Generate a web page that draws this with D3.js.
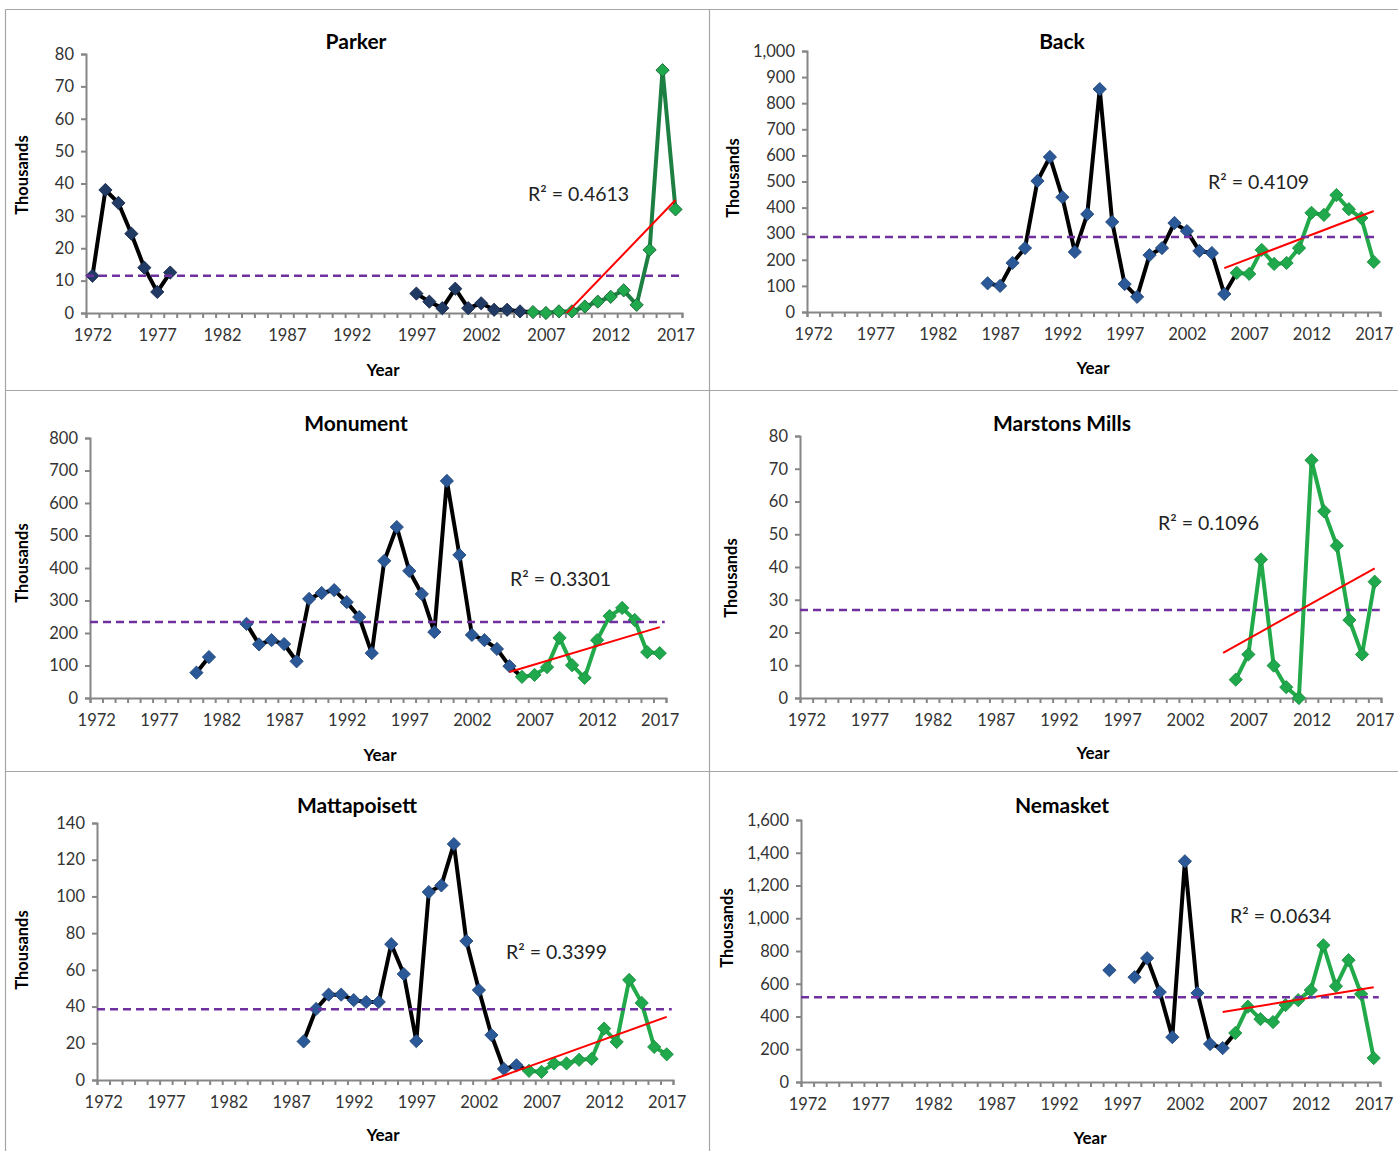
<!DOCTYPE html>
<html>
<head>
<meta charset="utf-8">
<script src="https://cdn.jsdelivr.net/npm/d3@7"></script>
<style>
  body { margin: 0; background: #fff; }
  text { font-family: Lato, "Open Sans", sans-serif; }
</style>
</head>
<body>
<svg id="chart" width="1398" height="1151"></svg>
<script>
// ---- data (thousands of fish) ----
const TICK_YEARS = [1972, 1977, 1982, 1987, 1992, 1997, 2002, 2007, 2012, 2017];
const GREEN_YEARS = [2006, 2007, 2008, 2009, 2010, 2011, 2012, 2013, 2014, 2015, 2016, 2017];

const PARKER_START = 1972;
const PARKER_HIST = [11.5, 38, 34, 24.5, 14, 6.5, 12.5,
  null, null, null, null, null, null, null, null, null, null, null, null, null, null, null, null, null, null,
  6, 3.5, 1.5, 7.5, 1.5, 3, 1, 1, 0.5];
const PARKER_GREEN = [0.3, 0, 0.5, 0.5, 2, 3.5, 5, 7, 2.5, 19.5, 75, 32];

const BACK_START = 1986;
const BACK_HIST = [110, 100, 188, 245, 502, 594, 440, 230, 375, 854, 345, 107, 58, 218, 245, 341, 310, 234, 226, 69];
const BACK_GREEN = [150, 146, 238, 184, 188, 245, 380, 372, 448, 394, 360, 192];

const MONUMENT_START = 1980;
const MONUMENT_HIST = [78, 126, null, null, 228, 165, 178, 166, 113, 305, 323, 332, 295, 249, 138, 422, 526,
  391, 320, 203, 668, 440, 194, 178, 151, 98];
const MONUMENT_GREEN = [65, 71, 95, 185, 101, 62, 178, 252, 277, 240, 141, 138];

const MARSTONS_START = 2006;
const MARSTONS_HIST = [];
const MARSTONS_GREEN = [5.6, 13.3, 42.3, 9.9, 3.3, 0, 72.6, 57, 46.5, 23.8, 13.3, 35.5];

const MATTA_START = 1988;
const MATTA_HIST = [21, 38.7, 46.5, 46.5, 43.5, 42.5, 42.5, 74, 57.7, 21.2, 102.4, 106, 128.5, 75.7, 49, 24.5, 6, 8];
const MATTA_GREEN = [5, 4.4, 9, 9, 11, 11.5, 28, 20.7, 54.5, 42, 18, 14];

const NEMASK_START = 1996;
const NEMASK_HIST = [683, null, 640, 756, 549, 274, 1348, 543, 232, 207];
const NEMASK_GREEN = [299, 460, 384, 366, 470, 500, 561, 835, 585, 744, 537, 146];

// long-term average (dashed) and trend line end points [year, value, year, value]
const AVERAGES = [11.5, 287, 234, 26.9, 38.6, 518];
const TRENDS = [
  [2005, -15, 2017, 34.9],
  [2005, 168, 2017, 387],
  [2005, 80, 2017, 218],
  [2005, 13.8, 2017, 39.6],
  [2003, 0, 2017, 34.4],
  [2005, 427, 2017, 579]
];
const R2_LABELS = ["0.4613", "0.4109", "0.3301", "0.1096", "0.3399", "0.0634"];
const TITLES = ["Parker", "Back", "Monument", "Marstons Mills", "Mattapoisett", "Nemasket"];
const Y_MAX = [80, 1000, 800, 80, 140, 1600];
const Y_STEP = [10, 100, 100, 10, 20, 200];

// ---- layout ----
const LAYOUT = [
  {box: {left: 86, right: 682, top: 54, bottom: 313}, title: [356, 49], year: [383, 376], thou: [22, 175], r2: [528, 201]},
  {box: {left: 807, right: 1380, top: 51, bottom: 312}, title: [1062, 49], year: [1093, 374], thou: [733, 178], r2: [1208, 189]},
  {box: {left: 90, right: 666, top: 438, bottom: 698}, title: [356, 431], year: [380, 761], thou: [22, 563], r2: [510, 586]},
  {box: {left: 800, right: 1381, top: 436, bottom: 698}, title: [1062, 431], year: [1093, 759], thou: [731, 578], r2: [1158, 530]},
  {box: {left: 97, right: 673, top: 823, bottom: 1080}, title: [357, 813], year: [383, 1141], thou: [22, 950], r2: [506, 959]},
  {box: {left: 801, right: 1380, top: 820, bottom: 1082}, title: [1062, 813], year: [1090, 1144], thou: [727, 928], r2: [1230, 923]}
];

const HIST = [
  [PARKER_START, PARKER_HIST], [BACK_START, BACK_HIST], [MONUMENT_START, MONUMENT_HIST],
  [MARSTONS_START, MARSTONS_HIST], [MATTA_START, MATTA_HIST], [NEMASK_START, NEMASK_HIST]
];
const GREEN = [PARKER_GREEN, BACK_GREEN, MONUMENT_GREEN, MARSTONS_GREEN, MATTA_GREEN, NEMASK_GREEN];

const svg = d3.select("#chart");

// panel frame
const FRAME = svg.append("g").attr("stroke", "#a6a6a6").attr("stroke-width", 1.2);
FRAME.append("line").attr("x1", 5.5).attr("x2", 5.5).attr("y1", 9.5).attr("y2", 1151);
FRAME.append("line").attr("x1", 5.5).attr("x2", 1398).attr("y1", 9.5).attr("y2", 9.5);
FRAME.append("line").attr("x1", 709.5).attr("x2", 709.5).attr("y1", 9.5).attr("y2", 1151);
FRAME.append("line").attr("x1", 5.5).attr("x2", 1398).attr("y1", 390.5).attr("y2", 390.5);
FRAME.append("line").attr("x1", 5.5).attr("x2", 1398).attr("y1", 771.5).attr("y2", 771.5);

const diamond = d3.symbol().type(d3.symbolSquare).size(88);

function drawPanel(i) {
  const L = LAYOUT[i];
  const b = L.box;
  const X = d3.scaleLinear().domain([1971.5, 2017.5]).range([b.left, b.right]);
  const Y = d3.scaleLinear().domain([0, Y_MAX[i]]).range([b.bottom, b.top]);
  const g = svg.append("g");

  g.append("clipPath").attr("id", "clip" + i)
    .append("rect").attr("x", b.left).attr("y", b.top - 10)
    .attr("width", b.right - b.left + 10).attr("height", b.bottom - b.top + 10);

  // y axis
  const yAx = g.append("g").attr("transform", `translate(${b.left},0)`)
    .call(d3.axisLeft(Y).tickValues(d3.range(0, Y_MAX[i] + 1, Y_STEP[i]))
      .tickSize(5).tickPadding(7).tickFormat(d3.format(",")));
  // x axis minor ticks between categories
  const xAx = g.append("g").attr("transform", `translate(0,${b.bottom})`)
    .call(d3.axisBottom(X).tickValues(d3.range(1971.5, 2018, 1)).tickSize(5).tickFormat(""));
  const xLab = g.append("g").attr("transform", `translate(0,${b.bottom})`)
    .call(d3.axisBottom(X).tickValues(TICK_YEARS).tickSize(0).tickPadding(16).tickFormat(d3.format("d")));
  xLab.select(".domain").remove();
  [yAx, xAx, xLab].forEach(a => {
    a.attr("font-family", null).attr("font-size", 16.5);
    a.selectAll(".domain, .tick line").attr("stroke", "#868686").attr("stroke-width", 2);
    a.selectAll("text").attr("fill", "#333");
  });

  const hist = HIST[i][1].map((v, k) => ({year: HIST[i][0] + k, v: v}));
  const green = GREEN[i].map((v, k) => ({year: GREEN_YEARS[k], v: v}));
  const line = d3.line().defined(d => d.v !== null).x(d => X(d.year)).y(d => Y(d.v));

  const parker = i === 0;
  if (hist.length) {
    const joined = hist.slice();
    if (hist[hist.length - 1].year === GREEN_YEARS[0] - 1) joined.push(green[0]);
    g.append("path").datum(joined).attr("d", line)
      .attr("fill", "none").attr("stroke", "#000").attr("stroke-width", 4).attr("stroke-linejoin", "round");
    g.selectAll(".hm").data(hist.filter(d => d.v !== null)).enter().append("path")
      .attr("d", diamond)
      .attr("transform", d => `translate(${X(d.year)},${Y(d.v)}) rotate(45)`)
      .attr("fill", parker ? "#203a63" : "#2b5896").attr("stroke", parker ? "#14264a" : "#1f4479").attr("stroke-width", 0.8);
  }

  g.append("path").datum(green).attr("d", line)
    .attr("fill", "none").attr("stroke", parker ? "#1d7f42" : "#22aa4a").attr("stroke-width", 4)
    .attr("stroke-linejoin", "round");
  g.selectAll(".gm").data(green).enter().append("path")
    .attr("d", diamond)
    .attr("transform", d => `translate(${X(d.year)},${Y(d.v)}) rotate(45)`)
    .attr("fill", "#1fa84c").attr("stroke", parker ? "#145f30" : "#178c3c").attr("stroke-width", 0.8);

  // trend
  const t = TRENDS[i];
  g.append("line").attr("clip-path", `url(#clip${i})`)
    .attr("x1", X(t[0])).attr("y1", Y(t[1])).attr("x2", X(t[2])).attr("y2", Y(t[3]))
    .attr("stroke", "#ff0000").attr("stroke-width", 2);

  // long-term average
  g.append("line")
    .attr("x1", X(1971.5)).attr("x2", X(2017.4)).attr("y1", Y(AVERAGES[i])).attr("y2", Y(AVERAGES[i]))
    .attr("stroke", "#7030a0").attr("stroke-width", 2.5).attr("stroke-dasharray", "8,5");

  // texts
  g.append("text").attr("x", L.title[0]).attr("y", L.title[1]).attr("text-anchor", "middle")
    .attr("font-size", 21).attr("font-weight", "bold").attr("fill", "#000").text(TITLES[i]);
  g.append("text").attr("x", L.year[0]).attr("y", L.year[1]).attr("text-anchor", "middle")
    .attr("font-size", 17).attr("font-weight", "bold").attr("fill", "#000").text("Year");
  g.append("text").attr("transform", `translate(${L.thou[0] + 6},${L.thou[1]}) rotate(-90)`)
    .attr("text-anchor", "middle").attr("font-size", 16.5).attr("font-weight", "bold").attr("fill", "#000")
    .text("Thousands");
  g.append("text").attr("x", L.r2[0]).attr("y", L.r2[1])
    .attr("font-size", 19.5).attr("fill", "#222").text("R² = " + R2_LABELS[i]);
}

TITLES.forEach((_, i) => drawPanel(i));
</script>
</body>
</html>
